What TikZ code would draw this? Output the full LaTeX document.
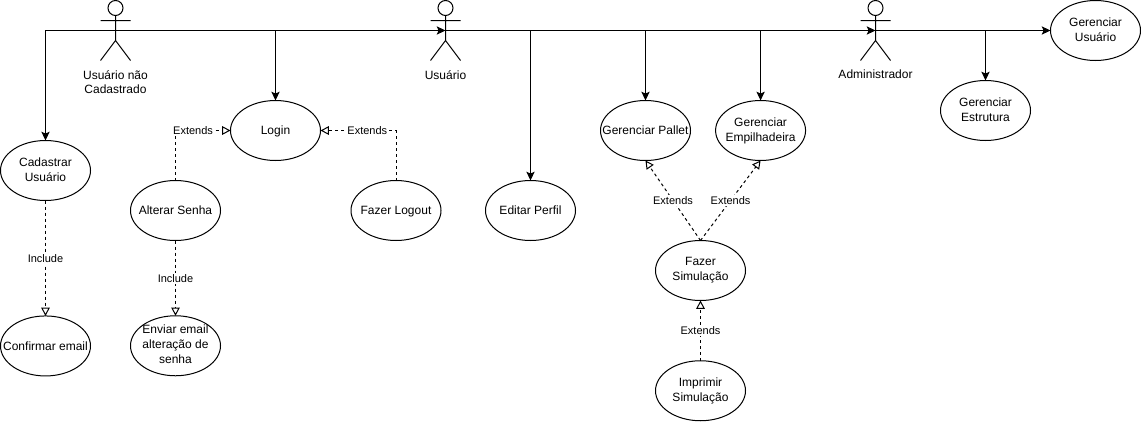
\documentclass[tikz,border=0pt]{standalone}
\usepackage{fontspec}
\setmainfont{Liberation Sans}
\usetikzlibrary{positioning,arrows.meta,shapes.geometric}
\tikzset{
  base/.style={line width=0.75pt},
  line/.style={base, -{Stealth[length=6.6pt, width=6.2pt, inset=1.4pt]}},
  dep/.style={base, dash pattern=on 2.25pt off 2.25pt, -{Triangle[open, length=6.2pt, width=6.4pt]}},
  usecase/.style={draw, base, ellipse, align=center, minimum width=67.5pt, minimum height=45pt,
    inner sep=-20pt, outer sep=0pt, font=\fontsize{9}{11.25}\selectfont,
    execute at begin node={\rule{0pt}{8.5pt}}, execute at end node={\rule[-2pt]{0pt}{2pt}}},
  actortext/.style={align=center, inner sep=0pt, font=\fontsize{9}{11}\selectfont},
  tag/.style={fill=white, inner sep=1pt, font=\fontsize{8.25}{10}\selectfont},
  actor/.pic={
    \draw[base] (0,-22.5) circle[radius=7.5];
    \draw[base] (0,-15) -- (0,10) (-15,-10) -- (15,-10) (-15,30) -- (0,10) -- (15,30);
    \coordinate (-c) at (0,0);
    \coordinate (-base) at (0,30);
  }
}
\begin{document}
\begin{tikzpicture}[x=0.75pt, y=-0.75pt]
  \path[fill=white, use as bounding box] (0,0) rectangle (1141,421);

  \pic (naocad) at (115.5,30.5) {actor};
  \pic (usuario) at (445.5,30.5) {actor};
  \pic (admin) at (875.5,30.5) {actor};
  \node[actortext, below=2.5mm of naocad-base] (naocadtext) {Usuário não\\Cadastrado};
  \node[actortext, below=2.5mm of usuario-base] (usuariotext) {Usuário};
  \node[actortext, below=2.5mm of admin-base] (admintext) {Administrador};

  \node[usecase] at (45.5,170.5) (cadastrar) {Cadastrar\\Usuário};
  \node[usecase, below=30.43mm of cadastrar] (confirmar) {Confirmar email};
  \node[usecase] at (275.5,130.5) (login) {Login};
  \node[usecase] at (175.5,210.5) (alterar) {Alterar Senha};
  \node[usecase, below=19.84mm of alterar] (enviar) {Enviar email\\alteração de\\senha};
  \node[usecase, right=34.4mm of alterar] (logout) {Fazer Logout};
  \node[usecase] at (530.5,210.5) (editar) {Editar Perfil};
  \node[usecase] at (645.5,130.5) (pallet) {Gerenciar Pallet};
  \node[usecase, right=6.61mm of pallet] (empilhadeira) {Gerenciar\\Empilhadeira};
  \node[usecase] at (700.5,270.5) (simulacao) {Fazer\\Simulação};
  \node[usecase, below=15.88mm of simulacao] (imprimir) {Imprimir\\Simulação};
  \node[usecase] at (985.5,110.5) (estrutura) {Gerenciar\\Estrutura};
  \node[usecase] at (1095.5,30.5) (gerusuario) {Gerenciar\\Usuário};

  \draw[line] (naocad-c) -| (cadastrar);
  \draw[line] (naocad-c) -| (login);
  \draw[line] (naocad-c) -- (usuario-c);
  \draw[line] (usuario-c) -| (editar);
  \draw[line] (usuario-c) -| (pallet);
  \draw[line] (usuario-c) -| (empilhadeira);
  \draw[line] (usuario-c) -- (admin-c);
  \draw[line] (admin-c) -| (estrutura);
  \draw[line] (admin-c) -- (gerusuario);

  \draw[dep] (cadastrar) -- node[tag] (tagconfirmar) {Include} (confirmar);
  \draw[dep] (alterar) -- node[tag] (tagenviar) {Include} (enviar);
  \draw[dep] (alterar) |- node[tag, pos=0.66] (tagalterar) {Extends} (login);
  \draw[dep] (logout) |- node[tag, pos=0.69] (taglogout) {Extends} (login);
  \draw[dep] (simulacao.north) -- node[tag] (tagpallet) {Extends} (pallet.south);
  \draw[dep] (simulacao.north) -- node[tag] (tagempilhadeira) {Extends} (empilhadeira.south);
  \draw[dep] (imprimir) -- node[tag] (tagimprimir) {Extends} (simulacao);
\end{tikzpicture}
\end{document}
